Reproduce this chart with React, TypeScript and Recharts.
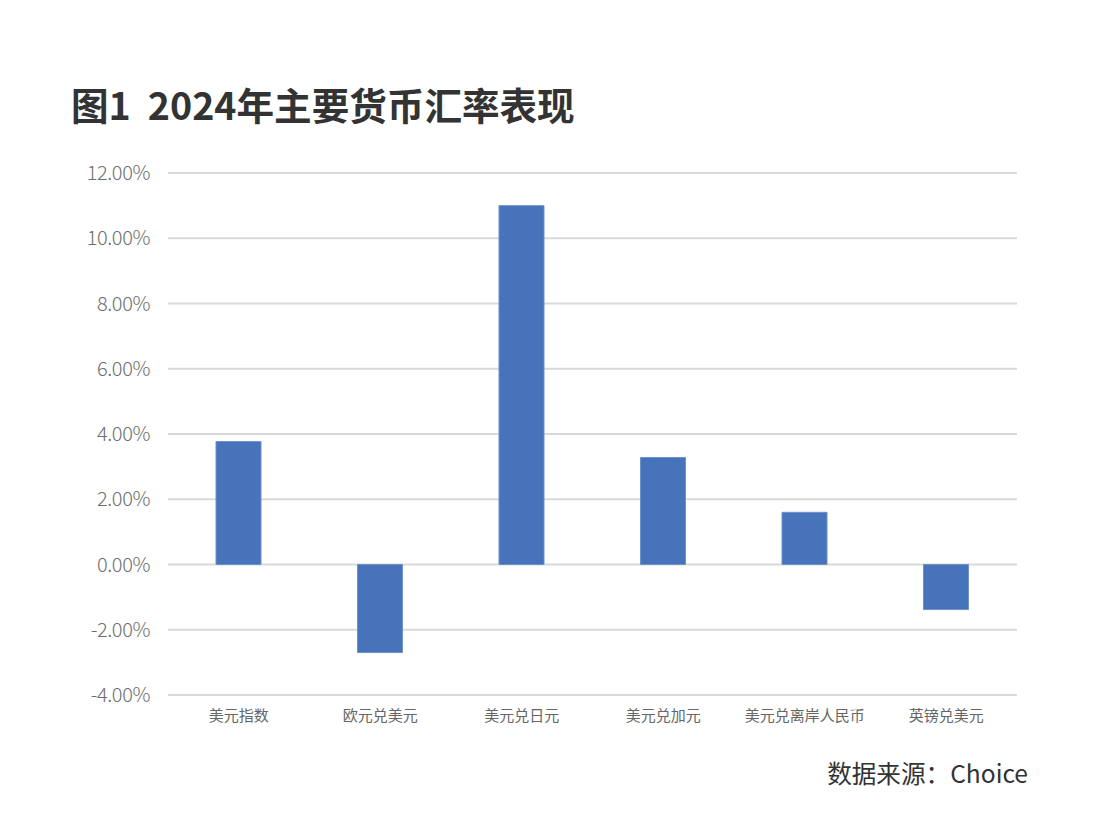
import React from "react";
import { BarChart, Bar, XAxis, YAxis, CartesianGrid } from "recharts";

const categories = ["美元指数", "欧元兑美元", "美元兑日元", "美元兑加元", "美元兑离岸人民币", "英镑兑美元"];
const changes = [3.77, -2.7, 11.0, 3.28, 1.6, -1.38];
const yTicks = [-4, -2, 0, 2, 4, 6, 8, 10, 12];

const data = categories.map((name, i) => ({ name, value: changes[i] }));

export default function App() {
  return (
    <div style={{ position: "fixed", left: 0, top: 0, width: 1102, height: 840, background: "#fff", fontFamily: "'Noto Sans CJK SC', 'Noto Sans', sans-serif" }}>
      <div style={{ position: "absolute", left: 71, top: 84, fontSize: 37.6, lineHeight: "40px", fontWeight: 700, color: "#333", whiteSpace: "pre" }}>
        图1  2024年主要货币汇率表现
      </div>
      <div style={{ position: "absolute", right: 1102 - 1028, top: 757, fontSize: 24.6, lineHeight: "30px", color: "#333", whiteSpace: "pre" }}>
        数据来源：Choice
      </div>
      <div style={{ position: "absolute", left: 0, top: 0 }}>
        <BarChart width={1102} height={840} data={data} margin={{ top: 173, right: 85, bottom: 115, left: 108 }}>
          <CartesianGrid vertical={false} stroke="#d9d9d9" strokeWidth={2} />
          <XAxis
            dataKey="name"
            axisLine={false}
            tickLine={false}
            height={30}
            tickMargin={9}
            interval={0}
            tick={{ fontSize: 15, fill: "#666", fontFamily: "'Noto Sans CJK SC', sans-serif" }}
          />
          <YAxis
            width={60}
            domain={[-4, 12]}
            ticks={yTicks}
            axisLine={false}
            tickLine={false}
            tickMargin={12}
            tickFormatter={(v: number) => `${v.toFixed(2)}%`}
            tick={{ fontSize: 20, fill: "#6e6e6e", fontFamily: "'Noto Sans CJK SC', sans-serif", fontWeight: 300, letterSpacing: -0.4 }}
          />
          <Bar dataKey="value" fill="#4673b9" stroke="#6d91c9" strokeWidth={1} barSize={45} isAnimationActive={false} />
        </BarChart>
      </div>
    </div>
  );
}
